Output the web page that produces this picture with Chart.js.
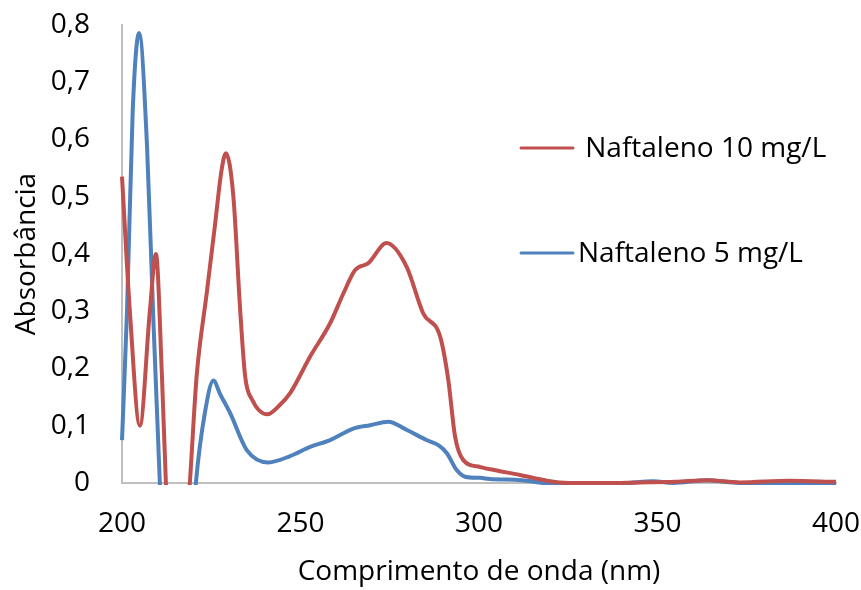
<!DOCTYPE html>
<html>
<head>
<meta charset="utf-8">
<script src="https://cdn.jsdelivr.net/npm/chart.js@4/dist/chart.umd.min.js"></script>
<style>
    html, body { margin: 0; padding: 0; background: #fff; }
    #wrap { width: 861px; height: 590px; }
</style>
</head>
<body>
<div id="wrap"><canvas id="spectrum" width="861" height="590"></canvas></div>
<script>
// wavelengths (nm) and absorbance, 10 mg/L
const wl10 = [200, 202.2, 205, 207.8, 209.5, 211.2, 212.3, 214, 216, 219, 220.9, 223.7, 226, 227.9, 229.1,
    231.2, 233.1, 234.5, 236.5, 240.7, 244, 247.1, 252.7, 258.3, 262, 265.3, 269, 274.1, 279.7, 284.4,
    289.1, 291.4, 293.3, 295.6, 300.3, 303.1, 311.5, 319, 325, 335, 345, 355, 364, 373, 387, 400];
const abs10 = [0.535, 0.30, 0.10, 0.30, 0.40, 0.185, 0, -0.2, -0.25, 0, 0.186, 0.33, 0.448, 0.547, 0.576,
    0.50, 0.302, 0.186, 0.145, 0.12, 0.135, 0.157, 0.221, 0.279, 0.331, 0.372, 0.384, 0.419, 0.378, 0.296,
    0.256, 0.18, 0.081, 0.04, 0.028, 0.024, 0.014, 0.004, 0, 0, 0.001, 0.002, 0.005, 0.001, 0.004, 0.002];

// wavelengths (nm) and absorbance, 5 mg/L
const wl5 = [200, 201.4, 203, 204.8, 207, 208.7, 210.6, 213, 216, 218.5, 220.7, 223.2, 225.6, 227.5, 230.3,
    234.9, 241, 247.1, 252.7, 258.3, 264.8, 269.5, 274.6, 279.7, 285.3, 288.6, 291, 293.7, 296.1, 300.3,
    303, 312, 319, 330, 340, 348.8, 354.4, 363.8, 373, 385, 400];
const abs5 = [0.075, 0.30, 0.65, 0.786, 0.59, 0.30, 0, -0.3, -0.35, -0.2, 0, 0.122, 0.179, 0.155, 0.122,
    0.058, 0.036, 0.047, 0.063, 0.075, 0.095, 0.101, 0.107, 0.093, 0.075, 0.066, 0.052, 0.023, 0.011, 0.009,
    0.007, 0.005, 0, 0, 0, 0.003, 0, 0.005, 0, 0, 0];

const seriesLabels = [' Naftaleno 10 mg/L', 'Naftaleno 5 mg/L'];
const seriesColors = ['#c0504d', '#4f81bd'];

const FONT = "'Open Sans', 'Noto Sans', sans-serif";

function toPoints(xs, ys) {
    return xs.map((x, i) => ({ x: x, y: ys[i] }));
}

// legend drawn inside the plot, to the right of the peaks
const sideLegend = {
    id: 'sideLegend',
    afterDraw(chart, args, opts) {
        const ctx = chart.ctx;
        ctx.save();
        ctx.font = opts.font;
        ctx.fillStyle = '#000';
        ctx.textBaseline = 'middle';
        chart.data.datasets.forEach((ds, i) => {
            const y = opts.rows[i];
            ctx.strokeStyle = ds.borderColor;
            ctx.lineWidth = 3;
            ctx.lineCap = 'round';
            ctx.beginPath();
            ctx.moveTo(opts.lineX[0], y);
            ctx.lineTo(opts.lineX[1], y);
            ctx.stroke();
            ctx.fillText(ds.label, opts.lineX[1] + 5, y + 1);
        });
        ctx.restore();
    }
};

const data = {
    datasets: [
        {
            label: seriesLabels[0],
            data: toPoints(wl10, abs10),
            borderColor: seriesColors[0],
            borderWidth: 4,
            pointRadius: 0,
            cubicInterpolationMode: 'monotone',
            clip: 2
        },
        {
            label: seriesLabels[1],
            data: toPoints(wl5, abs5),
            borderColor: seriesColors[1],
            borderWidth: 4,
            pointRadius: 0,
            cubicInterpolationMode: 'monotone',
            clip: 2
        }
    ]
};

const config = {
    type: 'line',
    data: data,
    options: {
        responsive: false,
        animation: false,
        layout: { padding: { top: 25, right: 25, left: 0, bottom: 0 } },
        plugins: {
            legend: { display: false },
            tooltip: { enabled: false },
            sideLegend: {
                font: "28px " + FONT,
                rows: [148, 253],
                lineX: [521, 573]
            }
        },
        scales: {
            x: {
                type: 'linear',
                min: 200,
                max: 400,
                // fixed axis band; end labels may overhang the plot edges
                afterFit: (scale) => {
                    scale.height = 107;
                    scale.paddingLeft = 0;
                    scale.paddingRight = 0;
                },
                grid: { display: false, drawTicks: false },
                border: { display: true, color: '#bfbfbf', width: 2 },
                ticks: {
                    stepSize: 50,
                    padding: 24,
                    color: '#000',
                    font: { family: FONT, size: 28 }
                },
                title: {
                    display: true,
                    text: 'Comprimento de onda (nm)',
                    color: '#000',
                    font: { family: FONT, size: 28 },
                    padding: { top: 0, bottom: 1 }
                }
            },
            y: {
                min: 0,
                max: 0.8,
                afterFit: (scale) => {
                    scale.width = 122;
                    scale.paddingTop = 0;
                    scale.paddingBottom = 0;
                },
                grid: { display: false, drawTicks: false },
                border: { display: true, color: '#bfbfbf', width: 2 },
                ticks: {
                    stepSize: 0.1,
                    padding: 32,
                    color: '#000',
                    font: { family: FONT, size: 28 },
                    callback: (v) => String(+v.toFixed(1)).replace('.', ',')
                },
                title: {
                    display: true,
                    text: 'Absorbância',
                    color: '#000',
                    font: { family: FONT, size: 28 },
                    padding: { top: 10, bottom: 0 }
                }
            }
        }
    },
    plugins: [sideLegend]
};

let chart = new Chart(document.getElementById('spectrum'), config);
</script>
</body>
</html>
